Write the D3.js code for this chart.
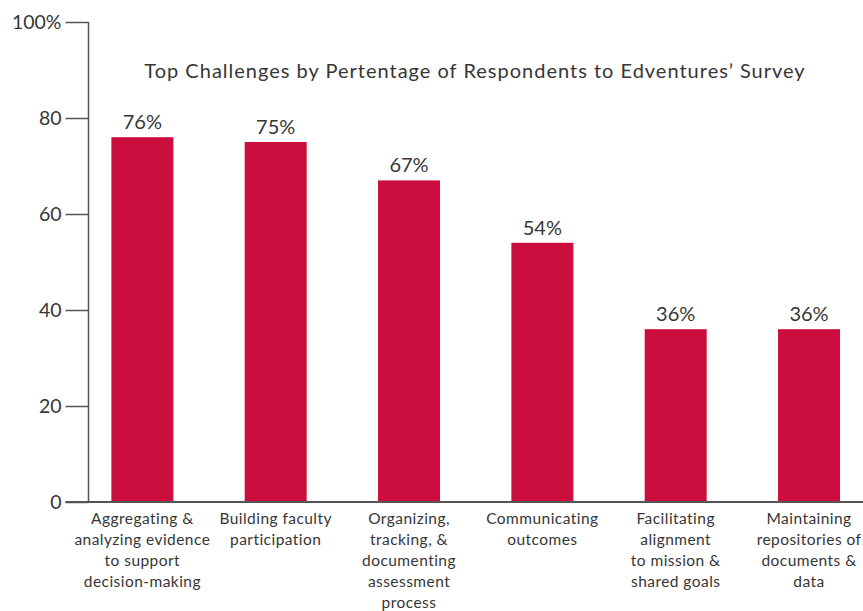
<!DOCTYPE html>
<html>
<head>
<meta charset="utf-8">
<script src="https://cdn.jsdelivr.net/npm/d3@7"></script>
<style>
  html, body { margin: 0; padding: 0; background: #fff; }
  svg { display: block; font-family: Lato, "Open Sans", sans-serif; }
</style>
</head>
<body>
<svg id="chart" width="863" height="611"></svg>
<script>
// Survey results: share of respondents naming each challenge
const categories = [
  ["Aggregating &", "analyzing evidence", "to support", "decision-making"],
  ["Building faculty", "participation"],
  ["Organizing,", "tracking, &", "documenting", "assessment", "process"],
  ["Communicating", "outcomes"],
  ["Facilitating", "alignment", "to mission &", "shared goals"],
  ["Maintaining", "repositories of", "documents &", "data"]
];
const values = [76, 75, 67, 54, 36, 36];
const tickValues = [0, 20, 40, 60, 80, 100];
const tickLabels = ["0", "20", "40", "60", "80", "100%"];
const title = "Top Challenges by Pertentage of Respondents to Edventures\u2019 Survey";

const barColor = "#cc0e3f";
const inkColor = "#363636";
const axisColor = "#555555";

const svg = d3.select("#chart");

const axisX = 88.5;
const y = d3.scaleLinear().domain([0, 100]).range([502, 22]);
const x = d3.scaleBand()
  .domain(d3.range(categories.length))
  .range([75.7, 875.7])
  .paddingInner(0.535)
  .paddingOuter(0.2675);

// Title
svg.append("text")
  .attr("x", 475)
  .attr("y", 78)
  .attr("text-anchor", "middle")
  .attr("font-size", 20)
  .attr("letter-spacing", 1)
  .attr("fill", inkColor)
  .text(title);

// Bars
svg.append("g").selectAll("rect")
  .data(values)
  .join("rect")
  .attr("x", (d, i) => x(i))
  .attr("width", x.bandwidth())
  .attr("y", d => y(d))
  .attr("height", d => y(0) - y(d))
  .attr("fill", barColor);

// Value labels
svg.append("g").selectAll("text")
  .data(values)
  .join("text")
  .attr("x", (d, i) => x(i) + x.bandwidth() / 2)
  .attr("y", d => y(d) - 8)
  .attr("text-anchor", "middle")
  .attr("font-size", 20)
  .attr("fill", inkColor)
  .text(d => d + "%");

// Y axis
const yAxis = d3.axisLeft(y)
  .tickValues(tickValues)
  .tickSize(23)
  .tickPadding(4)
  .tickFormat((d, i) => tickLabels[i]);

const gy = svg.append("g")
  .attr("transform", `translate(${axisX},0)`)
  .call(yAxis);
gy.select(".domain").remove();
gy.selectAll(".tick line").attr("stroke", axisColor).attr("stroke-width", 1.5);
gy.selectAll(".tick text")
  .attr("font-size", 19.5)
  .attr("font-family", "Lato, sans-serif")
  .attr("fill", inkColor);

// Vertical axis line
svg.append("line")
  .attr("x1", axisX).attr("x2", axisX)
  .attr("y1", y(100)).attr("y2", y(0))
  .attr("stroke", axisColor).attr("stroke-width", 1.5);

// Baseline
svg.append("line")
  .attr("x1", axisX - 23).attr("x2", 863)
  .attr("y1", y(0)).attr("y2", y(0))
  .attr("stroke", axisColor).attr("stroke-width", 2);

// Category labels
const catG = svg.append("g").selectAll("text")
  .data(categories)
  .join("text")
  .attr("x", (d, i) => x(i) + x.bandwidth() / 2)
  .attr("y", 524)
  .attr("text-anchor", "middle")
  .attr("font-size", 15.5)
  .attr("letter-spacing", 0.45)
  .attr("fill", inkColor);

catG.selectAll("tspan")
  .data(d => d)
  .join("tspan")
  .attr("x", function () { return this.parentNode.getAttribute("x"); })
  .attr("dy", (d, j) => j === 0 ? 0 : 21)
  .text(d => d);
</script>
</body>
</html>
